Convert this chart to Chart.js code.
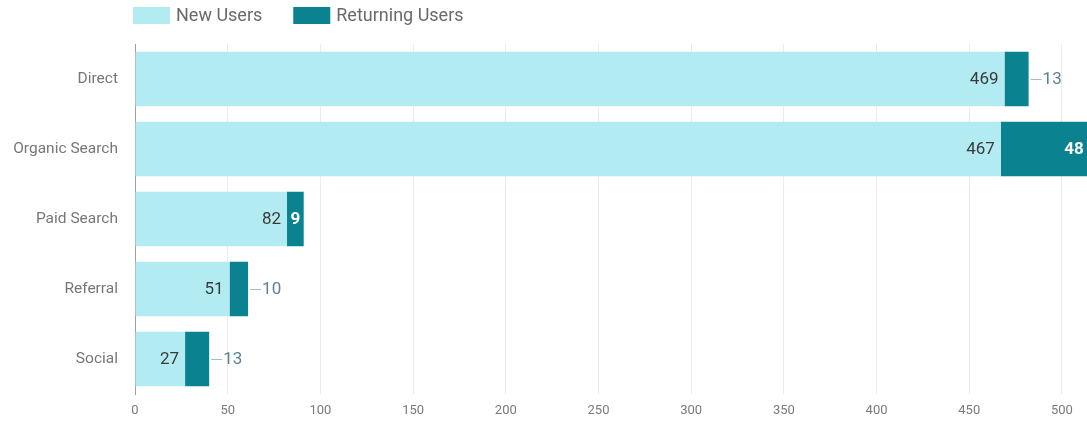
<!DOCTYPE html>
<html>
<head>
<meta charset="utf-8">
<script src="https://cdn.jsdelivr.net/npm/chart.js@4.4.1/dist/chart.umd.min.js"></script>
<style>
  html, body { margin: 0; padding: 0; background: #fff; }
  #wrap { width: 1087px; height: 424px; position: relative; }
</style>
</head>
<body>
<div id="wrap"><canvas id="chart"></canvas></div>
<script>
const categories = ['Direct', 'Organic Search', 'Paid Search', 'Referral', 'Social'];
const newUsers = [469, 467, 82, 51, 27];
const returningUsers = [13, 48, 9, 10, 13];
const seriesNames = ['New Users', 'Returning Users'];
const xTicks = [0, 50, 100, 150, 200, 250, 300, 350, 400, 450, 500];
const xMax = 513.5;

const lightCyan = '#b2ebf2';
const darkTeal = '#0b828f';

// draws the value on each segment, outside with a small leader when it won't fit
const valueLabels = {
    id: 'valueLabels',
    afterDatasetsDraw(chart) {
        const ctx = chart.ctx;
        ctx.save();
        ctx.textBaseline = 'middle';
        chart.data.datasets.forEach((ds, di) => {
            chart.getDatasetMeta(di).data.forEach((bar, i) => {
                const text = String(ds.data[i]);
                const left = bar.base, right = bar.x, y = bar.y;
                const w = right - left;
                if (di === 0) {
                    ctx.font = '17px Roboto';
                    ctx.fillStyle = '#3a3a3a';
                    ctx.textAlign = 'right';
                    ctx.fillText(text, right - 6, y + 1);
                    return;
                }
                ctx.font = 'bold 17px Roboto';
                const tw = ctx.measureText(text).width;
                if (tw < w * 0.65) {
                    ctx.fillStyle = '#ffffff';
                    if (tw + 12 > w) {
                        ctx.textAlign = 'center';
                        ctx.fillText(text, (left + right) / 2, y + 1);
                    } else {
                        ctx.textAlign = 'right';
                        ctx.fillText(text, right - 6, y + 1);
                    }
                } else {
                    ctx.strokeStyle = '#a3bcc6';
                    ctx.lineWidth = 1;
                    ctx.beginPath();
                    ctx.moveTo(right + 2, y + 0.5);
                    ctx.lineTo(right + 13, y + 0.5);
                    ctx.stroke();
                    ctx.font = '17px Roboto';
                    ctx.fillStyle = '#5a8296';
                    ctx.textAlign = 'left';
                    ctx.fillText(text, right + 14, y + 1);
                }
            });
        });
        ctx.restore();
    }
};

// legend sits flush with the plot's left edge
const topLegend = {
    id: 'topLegend',
    afterDraw(chart) {
        const ctx = chart.ctx;
        ctx.save();
        ctx.font = '18px Roboto';
        ctx.textBaseline = 'middle';
        ctx.textAlign = 'left';
        let x = chart.chartArea.left - 2;
        chart.data.datasets.forEach(ds => {
            ctx.fillStyle = ds.backgroundColor;
            ctx.fillRect(x, 7, 37, 17);
            ctx.fillStyle = '#6a6a6a';
            ctx.fillText(ds.label, x + 43, 16);
            x += 43 + ctx.measureText(ds.label).width + 31;
        });
        ctx.restore();
    }
};

const chart = new Chart(document.getElementById('chart'), {
    type: 'bar',
    data: {
        labels: categories,
        datasets: [
            { label: seriesNames[0], data: newUsers, backgroundColor: lightCyan },
            { label: seriesNames[1], data: returningUsers, backgroundColor: darkTeal }
        ]
    },
    options: {
        indexAxis: 'y',
        responsive: true,
        maintainAspectRatio: false,
        animation: false,
        categoryPercentage: 0.8,
        barPercentage: 0.97,
        layout: { padding: { top: 44, right: 0, bottom: 0, left: 0 } },
        plugins: {
            legend: { display: false },
            tooltip: { enabled: false }
        },
        scales: {
            x: {
                type: 'linear',
                stacked: true,
                min: 0,
                max: xMax,
                grid: { color: '#ebebeb', drawTicks: false },
                border: { display: false },
                ticks: {
                    color: '#7a7a7a',
                    font: { family: 'Roboto', size: 13 },
                    padding: 9,
                    includeBounds: false
                },
                afterBuildTicks(scale) {
                    scale.ticks = xTicks.map(v => ({ value: v }));
                },
                afterFit(scale) {
                    scale.height = 30;
                }
            },
            y: {
                stacked: true,
                grid: { display: false, drawTicks: false },
                border: { display: true, color: '#9e9e9e', width: 1 },
                ticks: {
                    color: '#777',
                    font: { family: 'Roboto', size: 15.5 },
                    padding: 17
                },
                afterFit(scale) {
                    scale.width = 135;
                }
            }
        }
    },
    plugins: [valueLabels, topLegend]
});
</script>
</body>
</html>
